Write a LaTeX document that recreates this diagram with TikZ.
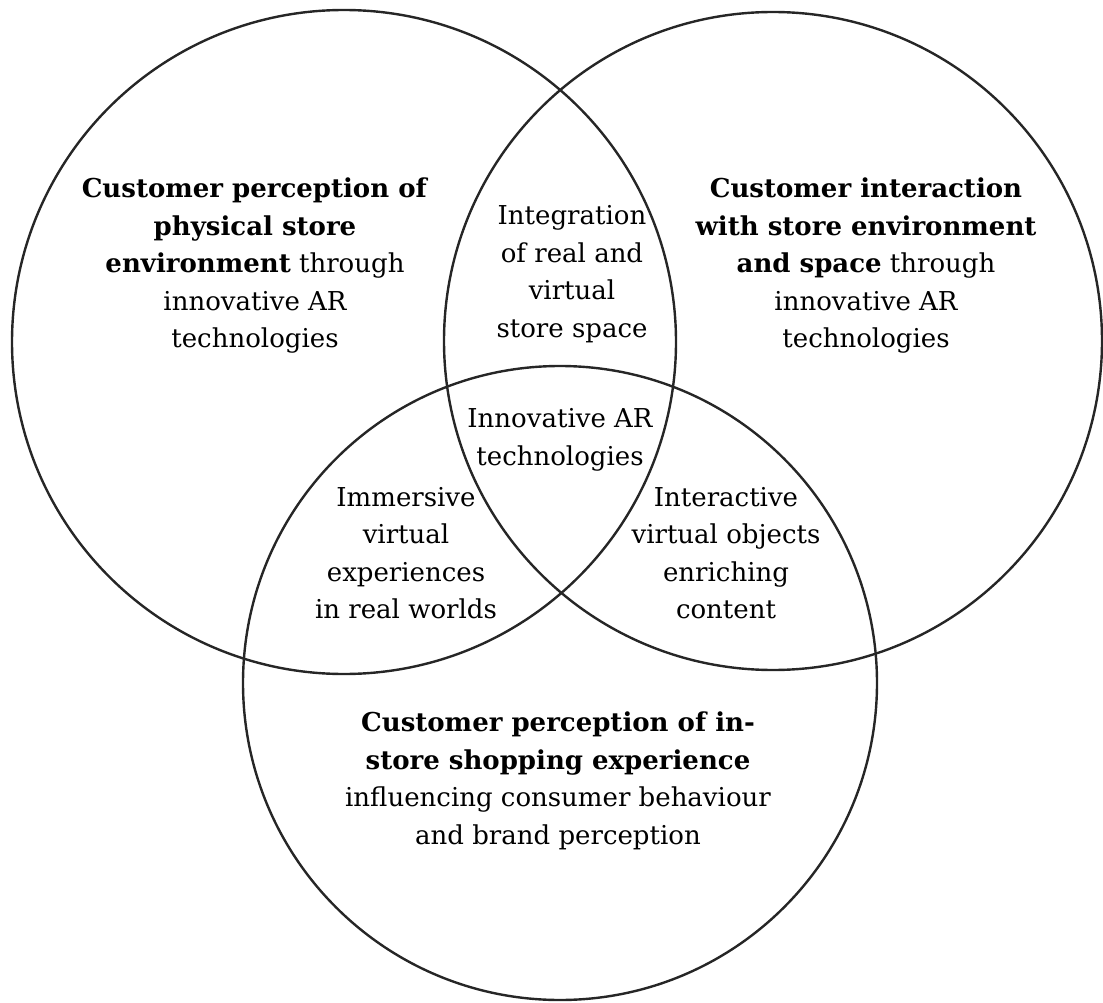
\documentclass[tikz,border=0pt]{standalone}
\usepackage{fontspec}
\setmainfont{DejaVu Serif}
\begin{document}
\begin{tikzpicture}[x=1pt,y=-1pt,
  ring/.style={draw=black!85,line width=2.4pt},
  label/.style={align=center,inner sep=0pt,font=\fontsize{26}{37.5}\selectfont}]
\useasboundingbox (0,0) rectangle (1103,1003);
% three overlapping sets
\draw[ring] (344,342) circle[radius=332];
\draw[ring] (773,341) circle[radius=329];
\draw[ring] (560,683) circle[radius=317];
% set labels
\node[label] (phys) at (255,266) {\textbf{Customer perception of}\\\textbf{physical store}\\\textbf{environment} through\\innovative AR\\technologies};
\node[label] (inter) at (866,266) {\textbf{Customer interaction}\\\textbf{with store environment}\\\textbf{and space} through\\innovative AR\\technologies};
\node[label] (shop) at (558,781) {\textbf{Customer perception of in-}\\\textbf{store shopping experience}\\influencing consumer behaviour\\and brand perception};
% overlap labels
\node[label] (integ) at (572,274) {Integration\\of real and\\virtual\\store space};
\node[label] (core) at (560,440) {Innovative AR\\technologies};
\node[label] (immers) at (406,553) {Immersive\\virtual\\experiences\\in real worlds};
\node[label] (objs) at (726,553) {Interactive\\virtual objects\\enriching\\content};
\end{tikzpicture}
\end{document}
